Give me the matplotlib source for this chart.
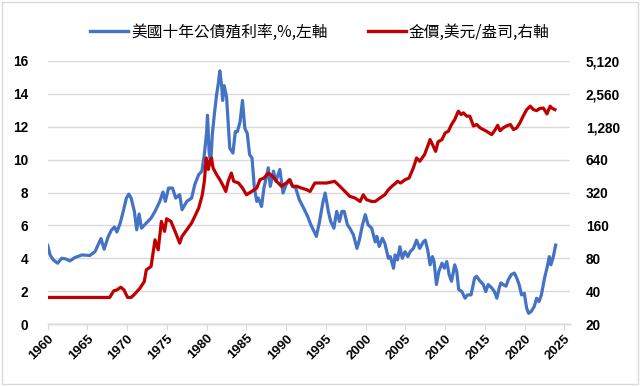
import matplotlib.pyplot as plt
from matplotlib.ticker import FixedLocator, FuncFormatter
from matplotlib.lines import Line2D
from matplotlib.patches import Rectangle

# US 10y treasury yield (%)
bond_years = [1960.0, 1960.3, 1960.7, 1961.25, 1961.75, 1962.26, 1962.8, 1963.4, 1964.3, 1965.3,
              1965.95, 1966.3, 1966.7, 1967.1, 1967.6, 1968.0, 1968.4, 1968.7, 1969.1, 1969.5,
              1969.9, 1970.2, 1970.5, 1970.9, 1971.2, 1971.5, 1971.8, 1972.4, 1973.0, 1973.5,
              1974.1, 1974.5, 1974.8, 1975.2, 1975.7, 1976.1, 1976.6, 1976.9, 1977.5, 1978.1,
              1978.5, 1979.0, 1979.4, 1979.7, 1980.0, 1980.1, 1980.3, 1980.5, 1980.7, 1980.95,
              1981.25, 1981.45, 1981.65, 1981.9, 1982.0, 1982.2, 1982.5, 1982.7, 1982.9, 1983.3,
              1983.6, 1983.85, 1984.2, 1984.5, 1984.8, 1985.1, 1985.4, 1985.7, 1986.0, 1986.3,
              1986.5, 1986.9, 1987.2, 1987.75, 1988.0, 1988.4, 1988.7, 1989.2, 1989.6, 1990.0,
              1990.5, 1990.8, 1991.2, 1991.65, 1992.2, 1992.7, 1993.1, 1993.5, 1993.8, 1994.2,
              1994.6, 1994.9, 1995.3, 1995.6, 1996.0, 1996.35, 1996.7, 1997.0, 1997.3, 1997.7,
              1998.0, 1998.45, 1998.9, 1999.2, 1999.6, 1999.95, 2000.3, 2000.75, 2001.2, 2001.4,
              2001.7, 2002.1, 2002.4, 2002.85, 2003.1, 2003.5, 2003.7, 2004.0, 2004.3, 2004.6,
              2004.95, 2005.3, 2005.6, 2006.0, 2006.4, 2006.8, 2007.25, 2007.5, 2007.8, 2008.1,
              2008.4, 2008.6, 2008.9, 2009.2, 2009.6, 2009.9, 2010.2, 2010.5, 2010.8, 2011.2,
              2011.45, 2011.7, 2012.1, 2012.5, 2012.8, 2013.25, 2013.7, 2013.95, 2014.4, 2014.8,
              2015.1, 2015.4, 2015.85, 2016.2, 2016.5, 2016.8, 2017.0, 2017.3, 2017.65, 2017.95,
              2018.3, 2018.7, 2019.0, 2019.3, 2019.6, 2019.95, 2020.25, 2020.5, 2020.8, 2021.2,
              2021.5, 2021.8, 2022.1, 2022.5, 2022.8, 2023.1, 2023.3, 2023.6, 2023.9]
bond_yield = [4.78, 4.2, 3.9, 3.7, 4.0, 3.96, 3.84, 4.04, 4.2, 4.17,
              4.4, 4.78, 5.2, 4.55, 5.3, 5.7, 5.9, 5.6, 6.1, 6.85,
              7.66, 7.9, 7.66, 6.85, 5.73, 6.69, 5.83, 6.14, 6.44, 6.85,
              7.46, 8.03, 7.46, 8.27, 8.27, 7.66, 7.87, 6.95, 7.46, 7.66,
              8.48, 9.09, 9.3, 10.3, 11.7, 12.7, 10.5, 9.7, 11.5, 12.7,
              13.96, 14.6, 15.4, 14.4, 13.6, 14.5, 13.8, 12.3, 10.7, 10.4,
              11.7, 11.7, 12.3, 13.6, 11.9, 11.6, 10.3, 10.1, 8.27, 7.46,
              7.66, 7.15, 8.27, 9.5, 8.37, 9.3, 8.68, 9.4, 7.97, 8.48,
              8.78, 8.37, 8.27, 7.56, 7.05, 6.54, 6.04, 5.63, 5.33, 6.24,
              7.36, 7.97, 6.85, 6.24, 5.83, 6.85, 6.24, 6.85, 6.85, 6.04,
              5.83, 5.43, 4.6, 5.1, 6.04, 6.65, 6.04, 5.83, 5.0, 5.33,
              4.72, 5.22, 4.92, 4.0, 4.1, 3.39, 4.2, 3.9, 4.7, 4.0,
              4.4, 4.1, 4.4, 4.6, 5.1, 4.6, 5.0, 5.1, 4.5, 3.6,
              4.1, 3.8, 2.4, 3.2, 3.7, 3.4, 3.8, 3.0, 2.6, 3.6,
              3.2, 2.1, 1.97, 1.57, 1.77, 1.77, 2.8, 2.9, 2.6, 2.4,
              1.97, 2.4, 2.2, 1.97, 1.57, 2.2, 2.5, 2.4, 2.3, 2.7,
              3.0, 3.1, 2.8, 2.4, 1.77, 1.87, 0.96, 0.65, 0.75, 1.06,
              1.57, 1.36, 1.77, 2.8, 3.4, 4.1, 3.6, 4.1, 4.8]

# gold price, USD per ounce
gold_years = [1960.0, 1967.8, 1968.3, 1968.7, 1969.2, 1969.6, 1970.05, 1970.5, 1970.9, 1971.6,
              1972.15, 1972.4, 1973.0, 1973.5, 1973.9, 1974.3, 1974.7, 1974.96, 1975.5, 1976.2,
              1976.6, 1976.9, 1977.5, 1978.1, 1978.6, 1979.0, 1979.45, 1979.7, 1979.95, 1980.2,
              1980.4, 1980.6, 1980.8, 1981.25, 1981.65, 1982.1, 1982.4, 1982.7, 1983.1, 1983.4,
              1984.0, 1984.5, 1985.0, 1985.65, 1986.3, 1986.7, 1987.2, 1987.75, 1988.3, 1988.8,
              1989.4, 1990.0, 1990.4, 1990.8, 1991.3, 1991.9, 1992.6, 1993.0, 1993.6, 1994.25,
              1995.1, 1996.1, 1996.75, 1997.4, 1998.0, 1998.65, 1999.3, 1999.7, 2000.1, 2000.75,
              2001.2, 2001.8, 2002.4, 2002.85, 2003.3, 2003.7, 2004.0, 2004.4, 2004.95, 2005.45,
              2006.0, 2006.4, 2006.8, 2007.4, 2007.8, 2008.1, 2008.4, 2008.8, 2009.1, 2009.6,
              2010.0, 2010.4, 2010.8, 2011.2, 2011.65, 2012.0, 2012.3, 2012.7, 2013.1, 2013.55,
              2013.96, 2014.4, 2014.8, 2015.2, 2015.85, 2016.3, 2016.6, 2016.9, 2017.3, 2017.7,
              2018.2, 2018.6, 2019.0, 2019.4, 2019.8, 2020.25, 2020.7, 2021.1, 2021.5, 2021.9,
              2022.35, 2022.8, 2023.2, 2023.4, 2023.8]
gold_price = [35, 35, 40.2, 41, 43.4, 41, 35, 35, 37.3, 42.5,
              48.9, 62.6, 67.2, 118, 95.5, 174, 141, 184, 174, 131,
              110, 127, 146, 168, 200, 231, 305, 405, 663, 520,
              618, 663, 538, 466, 420, 365, 327, 405, 482, 405,
              391, 352, 305, 327, 352, 419, 434, 482, 450, 405,
              365, 391, 419, 365, 365, 352, 339, 327, 391, 391,
              391, 405, 365, 327, 295, 285, 265, 305, 275, 265,
              265, 285, 305, 339, 365, 385, 405, 391, 419, 434,
              538, 663, 618, 711, 850, 977, 880, 762, 930, 977,
              1124, 1164, 1343, 1490, 1777, 1655, 1715, 1600, 1600, 1300,
              1343, 1250, 1205, 1164, 1085, 1205, 1320, 1177, 1250, 1300,
              1343, 1205, 1250, 1389, 1598, 1836, 1976, 1836, 1800, 1881,
              1900, 1678, 1976, 1900, 1836]

year_ticks = list(range(1960, 2030, 5))
left_ticks = [0, 2, 4, 6, 8, 10, 12, 14, 16]
right_ticks = [20, 40, 80, 160, 320, 640, 1280, 2560, 5120]

label_bond = '美國十年公債殖利率,%,左軸'
label_gold = '金價,美元/盎司,右軸'

blue = '#4472C4'
red = '#C00000'
grid_col = '#D9D9D9'

plt.rcParams['font.family'] = ['Liberation Sans', 'DejaVu Sans']

fig = plt.figure(figsize=(6.4, 3.86), dpi=100)
ax = fig.add_axes([47.7 / 640, 1 - 324 / 386, (570 - 47.7) / 640, (324 - 61) / 386])
ax2 = ax.twinx()

ax.plot(bond_years, bond_yield, color=blue, lw=2.3, solid_joinstyle='round')
ax2.plot(gold_years, gold_price, color=red, lw=2.3, solid_joinstyle='round')

ax.set_xlim(1960, 2025.7)
ax.set_ylim(0, 16)
ax2.set_yscale('log', base=2)
ax2.set_ylim(20, 5120)

ax.set_yticks(left_ticks)
ax2.yaxis.set_major_locator(FixedLocator(right_ticks))
ax2.yaxis.set_minor_locator(FixedLocator([]))
ax2.yaxis.set_major_formatter(FuncFormatter(lambda v, p: f'{int(round(v)):,}'))
ax.set_xticks(year_ticks)

ax.grid(axis='y', color=grid_col, lw=1.0)
ax.set_axisbelow(True)

for a in (ax, ax2):
    for s in ('top', 'left', 'right'):
        a.spines[s].set_visible(False)
    a.spines['bottom'].set_color(grid_col)
    a.spines['bottom'].set_linewidth(1.0)

ax.tick_params(axis='y', length=0, pad=14, labelsize=9.8)
ax2.tick_params(axis='y', length=0, pad=11.5, labelsize=9.8)
ax.tick_params(axis='x', length=4, color=grid_col, labelsize=9.5, pad=2)
for t in ax.get_yticklabels() + ax2.get_yticklabels():
    t.set_fontweight('bold')
for t in ax.get_xticklabels():
    t.set_fontweight('bold')
    t.set_rotation(45)
    t.set_ha('right')
    t.set_rotation_mode('anchor')

handles = [Line2D([], [], color=blue, lw=2.4), Line2D([], [], color=red, lw=2.4)]
fig.legend(handles, [label_bond, label_gold], loc='center', bbox_to_anchor=(0.5, 1 - 32 / 386),
           ncol=2, frameon=False, handlelength=2.4, handletextpad=0.2, columnspacing=2.6,
           prop={'family': ['Noto Sans CJK TC', 'DejaVu Sans'], 'size': 11.3})

fig.patches.append(Rectangle((0.003, 0.004), 0.994, 0.99, transform=fig.transFigure,
                             fill=False, edgecolor=grid_col, lw=1.0))

fig.savefig('out.png', dpi=100)
